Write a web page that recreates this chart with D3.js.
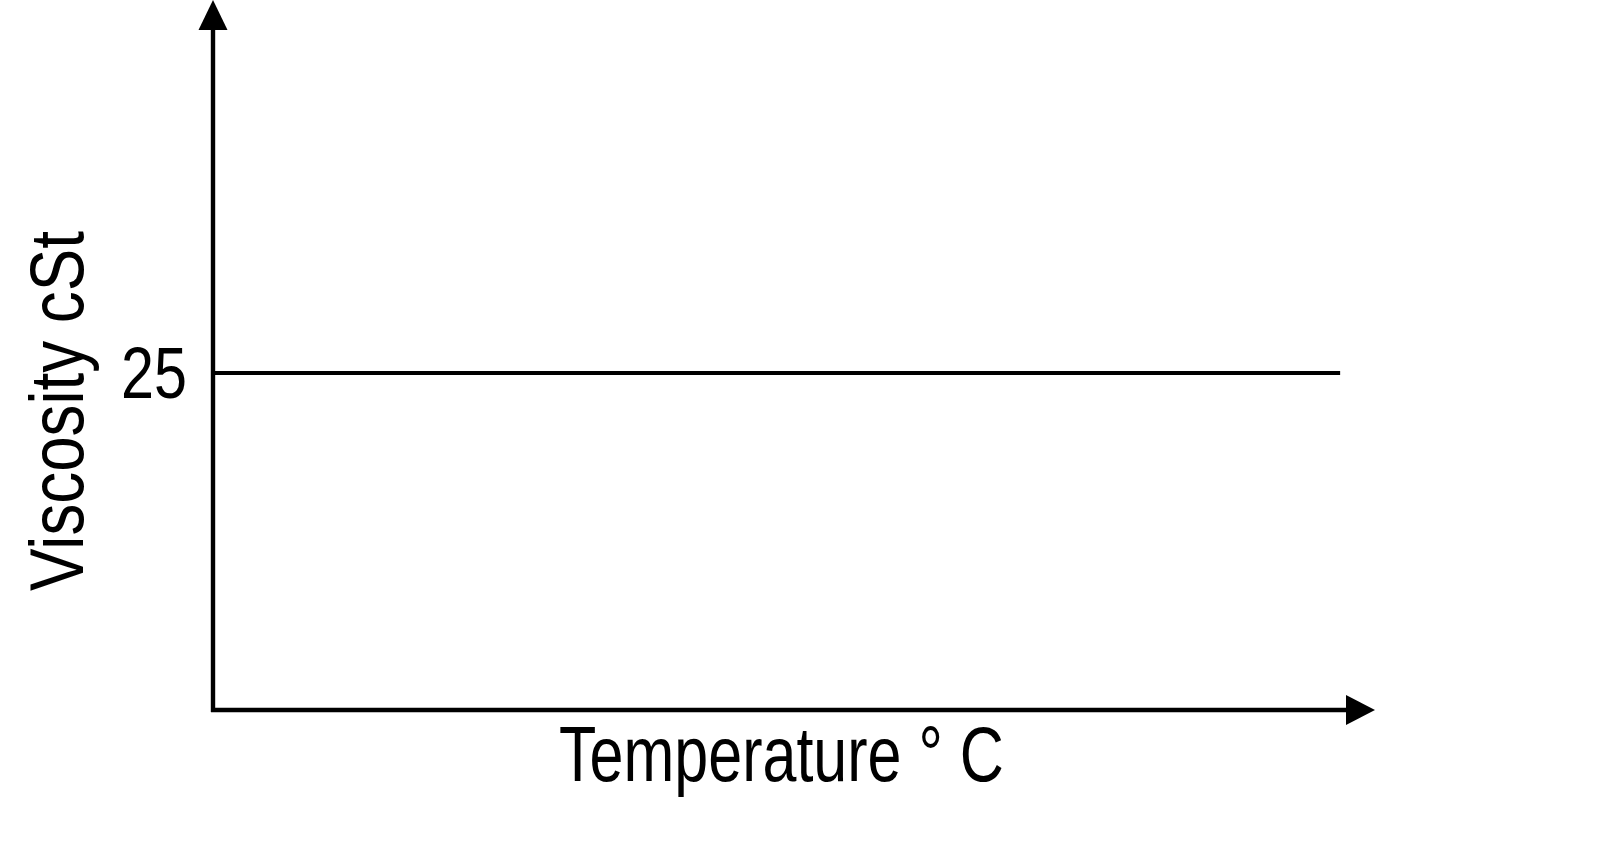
<!DOCTYPE html>
<html><head><meta charset="utf-8">
<script src="https://cdn.jsdelivr.net/npm/d3@7"></script>
<style>html,body{margin:0;padding:0;background:#fff;}svg{display:block;}
text{font-family:"Liberation Sans",Arial,sans-serif;fill:#000;}</style>
</head><body>
<script>
const temperatures = [0, 97];
const viscosity = [25, 25];
const yTickValues = [25];
const yTickLabels = ["25"];
const xLabel = "Temperature \u00b0 C";
const yLabel = "Viscosity cSt";

const W = 1623, H = 858;
const svg = d3.select("body").append("svg").attr("width", W).attr("height", H);
const x = d3.scaleLinear().domain([0, 100]).range([213, 1375]);
const y = d3.scaleLinear().domain([0, 50]).range([710, 36]);

function condensed(g, str, size, width, x0, base, rot) {
  const t = g.append("text").attr("font-size", size).text(str);
  const w = t.node().getComputedTextLength();
  const sx = width / w;
  t.attr("transform", `translate(${x0},${base})` + (rot ? ` rotate(${rot})` : "") + ` scale(${sx},1)`);
  return t;
}

// axes lines
svg.append("line").attr("x1", x(0) - 2).attr("x2", x(100) - 28).attr("y1", y(0)).attr("y2", y(0))
  .attr("stroke", "#000").attr("stroke-width", 4.4);
svg.append("line").attr("x1", x(0)).attr("x2", x(0)).attr("y1", y(0) + 2).attr("y2", 28)
  .attr("stroke", "#000").attr("stroke-width", 4.4);
// arrowheads
svg.append("path").attr("d", `M${x(0)},0 L${x(0)-14.5},30 L${x(0)+14.5},30 Z`).attr("fill", "#000");
svg.append("path").attr("d", `M${x(100)},${y(0)} L${x(100)-29},${y(0)-15} L${x(100)-29},${y(0)+15} Z`).attr("fill", "#000");

// y tick labels via axis
const yAxis = d3.axisLeft(y).tickValues(yTickValues).tickFormat((d, i) => yTickLabels[i]).tickSize(0).tickPadding(26);
const ga = svg.append("g").attr("transform", `translate(${x(0)},0)`).call(yAxis);
ga.select(".domain").remove();
ga.selectAll(".tick text").each(function(d) {
  const t = d3.select(this).attr("font-size", 73).attr("font-family", '"Liberation Sans",Arial,sans-serif')
    .attr("fill", "#000").attr("text-anchor", "start").attr("dy", null).attr("x", null);
  const w = this.getComputedTextLength();
  const sx = 66 / w;
  t.attr("transform", `translate(-92,24) scale(${sx},1)`);
});

// data line
const line = d3.line().x((d, i) => x(temperatures[i])).y(d => y(d));
svg.append("path").datum(viscosity).attr("d", line).attr("fill", "none")
  .attr("stroke", "#000").attr("stroke-width", 4);

// axis titles
condensed(svg, xLabel, 78, 445, 559, 781, 0);
condensed(svg, yLabel, 76, 360, 83, 591, -90);
</script>
</body></html>
